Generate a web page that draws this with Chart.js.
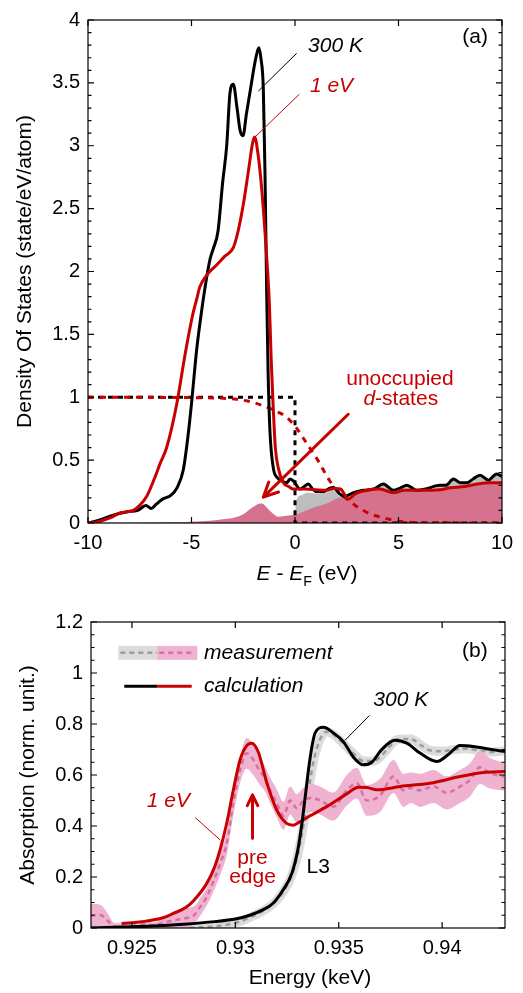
<!DOCTYPE html>
<html>
<head>
<meta charset="utf-8">
<script src="https://cdn.jsdelivr.net/npm/chart.js@4.4.1/dist/chart.umd.min.js"></script>
<style>
  html, body { margin: 0; padding: 0; background: #fff; }
  #wrap { position: relative; width: 523px; height: 993px; }
  canvas { position: absolute; left: 0; }
</style>
</head>
<body>
<div id="wrap">
  <canvas id="dos" width="523" height="590" style="top:0"></canvas>
  <canvas id="xas" width="523" height="403" style="top:590px"></canvas>
</div>
<script>
// (a) d-band density of states vs E - E_F (eV)
const dosE300 = [-10, -9.5, -9, -8.5, -8.1, -7.6, -7.2, -6.95, -6.7, -6.4, -6.0, -5.7, -5.4, -5.2, -5.0, -4.75, -4.5, -4.27, -4.1, -3.95, -3.72, -3.5, -3.3, -3.14, -2.98, -2.8, -2.65, -2.51, -2.35, -2.15, -1.95, -1.8, -1.74, -1.65, -1.53, -1.45, -1.37, -1.3, -1.21, -1.05, -0.85, -0.6, -0.4, -0.24, -0.05, 0.24, 0.45, 0.64, 0.85, 1.05, 1.4, 1.6, 1.85, 2.1, 2.4, 2.8, 3.3, 3.8, 4.27, 4.75, 5.1, 5.4, 5.88, 6.3, 7.0, 7.3, 7.65, 8.0, 8.3, 8.6, 8.94, 9.34, 9.74, 10];
const dos300 = [0, 0.02, 0.05, 0.075, 0.09, 0.1, 0.14, 0.115, 0.15, 0.19, 0.22, 0.28, 0.42, 0.65, 0.95, 1.38, 1.7, 1.95, 2.1, 2.18, 2.32, 2.7, 3.0, 3.42, 3.49, 3.3, 3.12, 3.08, 3.25, 3.45, 3.65, 3.76, 3.78, 3.7, 3.45, 2.79, 1.85, 1.2, 0.73, 0.44, 0.36, 0.33, 0.32, 0.35, 0.33, 0.27, 0.29, 0.31, 0.27, 0.25, 0.25, 0.27, 0.285, 0.24, 0.21, 0.24, 0.26, 0.27, 0.31, 0.26, 0.28, 0.30, 0.26, 0.27, 0.30, 0.30, 0.35, 0.32, 0.32, 0.35, 0.38, 0.34, 0.39, 0.37];

const dosE1eV = [-10, -9.5, -8.94, -8.45, -7.81, -7.5, -7.17, -6.8, -6.5, -6.2, -5.72, -5.3, -4.95, -4.75, -4.59, -4.27, -3.8, -3.4, -2.98, -2.75, -2.5, -2.25, -2.05, -1.95, -1.8, -1.61, -1.37, -1.24, -1.15, -1.05, -0.95, -0.81, -0.56, -0.3, -0.08, 0.5, 1.0, 1.5, 1.9, 2.2, 2.57, 2.9, 3.46, 4.1, 4.75, 5.3, 6.0, 7.0, 7.5, 8.2, 8.8, 9.4, 10];
const dos1eV = [0, 0.01, 0.04, 0.08, 0.1, 0.14, 0.21, 0.35, 0.48, 0.6, 0.94, 1.35, 1.65, 1.78, 1.88, 1.97, 2.05, 2.12, 2.19, 2.32, 2.53, 2.8, 3.02, 3.07, 2.95, 2.66, 2.12, 1.75, 1.3, 0.91, 0.6, 0.44, 0.32, 0.29, 0.27, 0.27, 0.265, 0.26, 0.275, 0.27, 0.19, 0.23, 0.26, 0.27, 0.24, 0.26, 0.26, 0.265, 0.28, 0.29, 0.31, 0.32, 0.32];

// unoccupied part of the d-band
const emptyE1eV = [-10, -8, -6, -5, -4, -3.5, -3, -2.5, -2.1, -1.8, -1.6, -1.4, -1.1, -0.8, -0.5, -0.1, 0.4, 1.0, 1.6, 2.2, 2.57, 3.0, 3.5, 4.1, 4.75, 5.3, 6.0, 7.0, 7.5, 8.2, 8.8, 9.4, 10];
const empty1eV = [0, 0.002, 0.005, 0.01, 0.02, 0.03, 0.04, 0.07, 0.12, 0.15, 0.155, 0.13, 0.08, 0.05, 0.055, 0.063, 0.09, 0.13, 0.16, 0.2, 0.19, 0.22, 0.25, 0.26, 0.235, 0.25, 0.255, 0.26, 0.275, 0.285, 0.305, 0.315, 0.315];
const emptyE300 = [0, 0.05, 0.3, 0.6, 1.0, 1.5, 1.85, 2.1, 2.5, 3.0, 3.5, 4.27, 4.75, 5.4, 5.88, 7.0, 7.65, 8.3, 8.94, 9.34, 9.74, 10];
const empty300 = [0, 0.17, 0.22, 0.24, 0.235, 0.24, 0.26, 0.22, 0.2, 0.24, 0.26, 0.3, 0.25, 0.29, 0.25, 0.29, 0.34, 0.31, 0.37, 0.33, 0.38, 0.36];

// occupation functions
const fermiE300 = [-10, 0, 0, 10];
const fermi300 = [1, 1, 0, 0];
const fermiE1eV = [-10, -4, -2.3, -1.5, -0.8, -0.4, 0.05, 0.5, 1.1, 1.7, 2.3, 3.0, 3.6, 4.3, 5.0, 6.0, 10];
const fermi1eV = [1, 0.995, 0.97, 0.93, 0.88, 0.84, 0.76, 0.65, 0.5, 0.33, 0.22, 0.13, 0.075, 0.04, 0.015, 0.003, 0];

// (b) L3 absorption vs photon energy (keV)
const calcE300 = [0.923, 0.9245, 0.926, 0.9275, 0.929, 0.93, 0.9307, 0.9313, 0.9318, 0.9323, 0.93273, 0.93302, 0.93322, 0.93338, 0.93362, 0.93386, 0.93426, 0.93474, 0.93523, 0.93571, 0.93619, 0.9366, 0.93708, 0.93772, 0.93829, 0.93893, 0.93974, 0.9403, 0.94086, 0.9415, 0.94215, 0.94304];
const calc300 = [0, 0.004, 0.008, 0.015, 0.025, 0.035, 0.05, 0.07, 0.095, 0.148, 0.214, 0.306, 0.41, 0.515, 0.67, 0.765, 0.787, 0.765, 0.73, 0.67, 0.64, 0.65, 0.70, 0.736, 0.725, 0.686, 0.653, 0.68, 0.716, 0.712, 0.703, 0.692];

const calcE1eV = [0.9245, 0.9255, 0.9265, 0.927, 0.9276, 0.928, 0.92862, 0.929, 0.92926, 0.92958, 0.9299, 0.93023, 0.93055, 0.93079, 0.93111, 0.93152, 0.932, 0.93248, 0.9328, 0.93313, 0.93362, 0.93442, 0.93539, 0.93595, 0.93636, 0.93684, 0.93797, 0.93958, 0.94086, 0.94199, 0.94304];
const calc1eV = [0.018, 0.025, 0.04, 0.057, 0.08, 0.109, 0.175, 0.24, 0.306, 0.41, 0.54, 0.66, 0.715, 0.725, 0.69, 0.57, 0.463, 0.41, 0.403, 0.417, 0.44, 0.476, 0.526, 0.552, 0.551, 0.542, 0.555, 0.57, 0.594, 0.61, 0.614];

const measE300 = [0.923, 0.924, 0.925, 0.927, 0.9285, 0.9295, 0.9302, 0.9308, 0.9314, 0.9319, 0.9323, 0.9327, 0.933, 0.9332, 0.9334, 0.9336, 0.9338, 0.9341, 0.9344, 0.9348, 0.9352, 0.9357, 0.9362, 0.9367, 0.937, 0.9375, 0.93785, 0.9385, 0.939, 0.9395, 0.94, 0.9406, 0.9412, 0.9418, 0.9425, 0.943];
const meas300 = [0.005, 0.003, 0.003, 0, 0.003, 0.012, 0.025, 0.045, 0.07, 0.1, 0.14, 0.2, 0.28, 0.36, 0.46, 0.57, 0.66, 0.74, 0.77, 0.755, 0.725, 0.685, 0.655, 0.655, 0.67, 0.715, 0.74, 0.741, 0.715, 0.695, 0.693, 0.70, 0.703, 0.695, 0.69, 0.695];

const measE1eV = [0.923, 0.9235, 0.9238, 0.9242, 0.925, 0.9256, 0.926, 0.9265, 0.927, 0.9275, 0.928, 0.9283, 0.9286, 0.9289, 0.9293, 0.92958, 0.9299, 0.93023, 0.93055, 0.93087, 0.93115, 0.9314, 0.93168, 0.932, 0.93233, 0.93265, 0.93297, 0.9333, 0.9337, 0.9341, 0.93474, 0.93539, 0.93587, 0.93636, 0.937, 0.93765, 0.93813, 0.9385, 0.93893, 0.93958, 0.94022, 0.94086, 0.94134, 0.94183, 0.94231, 0.943];
const meas1eV = [0.05, 0.05, 0.03, 0.005, 0.008, 0.015, 0.01, 0.02, 0.03, 0.037, 0.05, 0.083, 0.12, 0.175, 0.26, 0.33, 0.49, 0.62, 0.685, 0.66, 0.62, 0.59, 0.54, 0.49, 0.44, 0.5, 0.47, 0.5, 0.51, 0.5, 0.476, 0.54, 0.568, 0.5, 0.52, 0.594, 0.54, 0.55, 0.54, 0.555, 0.53, 0.555, 0.58, 0.63, 0.607, 0.594];
const meas1eVErr = [0.045, 0.04, 0.03, 0.012, 0.012, 0.015, 0.012, 0.02, 0.03, 0.04, 0.035, 0.035, 0.035, 0.04, 0.045, 0.045, 0.05, 0.05, 0.06, 0.06, 0.055, 0.05, 0.05, 0.055, 0.055, 0.055, 0.055, 0.05, 0.055, 0.055, 0.055, 0.06, 0.06, 0.06, 0.065, 0.065, 0.065, 0.06, 0.065, 0.065, 0.065, 0.065, 0.065, 0.065, 0.06, 0.055];

const FONT = '"Liberation Sans", Arial, Helvetica, sans-serif';
const RED = '#c80000';
Chart.defaults.color = '#000';
Chart.defaults.font.family = FONT;

const pts = (xs, ys) => xs.map((x, i) => ({x: x, y: ys[i]}));
const near = (v, s) => Math.abs(v / s - Math.round(v / s)) < 1e-6;

// frame on all four sides with inward ticks, long ones where a label sits
const frame = {
  id: 'frame',
  afterDraw(chart) {
    const {ctx, chartArea: a, scales: {x, y}} = chart;
    ctx.save();
    ctx.strokeStyle = '#000';
    ctx.lineWidth = 1.2;
    ctx.strokeRect(a.left, a.top, a.right - a.left, a.bottom - a.top);
    ctx.beginPath();
    y.ticks.forEach(t => {
      const p = y.getPixelForValue(t.value);
      const len = t.label ? 6 : 3.5;
      ctx.moveTo(a.left, p); ctx.lineTo(a.left + len, p);
      ctx.moveTo(a.right, p); ctx.lineTo(a.right - len, p);
    });
    x.ticks.forEach(t => {
      const p = x.getPixelForValue(t.value);
      const len = t.label ? 6 : 3.5;
      ctx.moveTo(p, a.bottom); ctx.lineTo(p, a.bottom - len);
      ctx.moveTo(p, a.top); ctx.lineTo(p, a.top + len);
    });
    ctx.stroke();
    ctx.restore();
  }
};

function text(ctx, s, x, y, color, italic, align, size) {
  ctx.font = (italic ? 'italic ' : '') + (size || 21) + 'px ' + FONT;
  ctx.fillStyle = color;
  ctx.textAlign = align || 'left';
  ctx.textBaseline = 'middle';
  ctx.fillText(s, x, y);
}

// mixed italic / subscript runs, centred on cx
function rich(ctx, parts, cx, cy, size, color) {
  const fontFor = p => (p.italic ? 'italic ' : '') + (p.sub ? size * 0.68 : size) + 'px ' + FONT;
  ctx.fillStyle = color;
  ctx.textAlign = 'left';
  ctx.textBaseline = 'middle';
  let w = 0;
  parts.forEach(p => { ctx.font = fontFor(p); w += ctx.measureText(p.t).width; });
  let x = cx - w / 2;
  parts.forEach(p => {
    ctx.font = fontFor(p);
    ctx.fillText(p.t, x, cy + (p.sub ? size * 0.38 : 0));
    x += ctx.measureText(p.t).width;
  });
}

function leader(ctx, x0, y0, x1, y1, color) {
  ctx.strokeStyle = color;
  ctx.lineWidth = 1;
  ctx.setLineDash([]);
  ctx.beginPath(); ctx.moveTo(x0, y0); ctx.lineTo(x1, y1); ctx.stroke();
}

function arrow(ctx, x0, y0, x1, y1, head, color) {
  const ang = Math.atan2(y1 - y0, x1 - x0);
  ctx.strokeStyle = color;
  ctx.lineWidth = 3;
  ctx.lineCap = 'round';
  ctx.lineJoin = 'round';
  ctx.setLineDash([]);
  ctx.beginPath();
  ctx.moveTo(x0, y0); ctx.lineTo(x1, y1);
  ctx.moveTo(x1 - head * Math.cos(ang - 0.45), y1 - head * Math.sin(ang - 0.45));
  ctx.lineTo(x1, y1);
  ctx.lineTo(x1 - head * Math.cos(ang + 0.45), y1 - head * Math.sin(ang + 0.45));
  ctx.stroke();
}

const dosNotes = {
  id: 'dosNotes',
  afterDraw(chart) {
    const {ctx, chartArea: a, scales: {x, y}} = chart;
    const X = v => x.getPixelForValue(v), Y = v => y.getPixelForValue(v);
    ctx.save();
    text(ctx, '300 K', X(0.63), Y(3.79), '#000', true);
    leader(ctx, X(0.08), Y(3.735), X(-1.77), Y(3.435), '#000');
    text(ctx, '1 eV', X(0.72), Y(3.47), RED, true);
    leader(ctx, X(0.21), Y(3.41), X(-1.93), Y(3.07), RED);
    text(ctx, '(a)', X(8.7), Y(3.86), '#000', false, 'center');
    text(ctx, 'unoccupied', X(5.07), Y(1.143), RED, false, 'center');
    rich(ctx, [{t: 'd', italic: true}, {t: '-states'}], X(5.11), Y(0.986), 21, RED);
    arrow(ctx, X(2.57), Y(0.865), X(-1.53), Y(0.206), 16, RED);
    rich(ctx, [{t: 'E', italic: true}, {t: ' - '}, {t: 'E', italic: true}, {t: 'F', sub: true}, {t: ' (eV)'}],
      (a.left + a.right) / 2 + 12, a.bottom + 51, 21, '#000');
    ctx.restore();
  }
};

const xasNotes = {
  id: 'xasNotes',
  afterDraw(chart) {
    const {ctx, chartArea: a, scales: {x, y}} = chart;
    const X = v => x.getPixelForValue(v), Y = v => y.getPixelForValue(v);
    ctx.save();
    // legend
    const r1 = Y(1.079), r2 = Y(0.948);
    ctx.fillStyle = '#dcdcdc';
    ctx.fillRect(X(0.92434), r1 - 7, X(0.92622) - X(0.92434), 14);
    ctx.fillStyle = '#efb2d1';
    ctx.fillRect(X(0.92622), r1 - 7, X(0.92816) - X(0.92622), 14);
    ctx.lineWidth = 2.5;
    ctx.setLineDash([5, 4]);
    ctx.strokeStyle = '#9c9c9c';
    ctx.beginPath(); ctx.moveTo(X(0.92444), r1); ctx.lineTo(X(0.92622), r1); ctx.stroke();
    ctx.strokeStyle = '#d9709c';
    ctx.beginPath(); ctx.moveTo(X(0.92632), r1); ctx.lineTo(X(0.92806), r1); ctx.stroke();
    ctx.setLineDash([]);
    ctx.lineWidth = 3;
    ctx.strokeStyle = '#000';
    ctx.beginPath(); ctx.moveTo(X(0.92463), r2); ctx.lineTo(X(0.92622), r2); ctx.stroke();
    ctx.strokeStyle = RED;
    ctx.beginPath(); ctx.moveTo(X(0.92622), r2); ctx.lineTo(X(0.92789), r2); ctx.stroke();
    text(ctx, 'measurement', X(0.92849), r1, '#000', true);
    text(ctx, 'calculation', X(0.92849), r2, '#000', true);
    text(ctx, '(b)', X(0.94158), Y(1.086), '#000', false, 'center');
    // curve labels
    text(ctx, '300 K', X(0.93667), Y(0.892), '#000', true);
    leader(ctx, X(0.93648), Y(0.833), X(0.9353), Y(0.736), '#000');
    text(ctx, '1 eV', X(0.92572), Y(0.496), RED, true);
    leader(ctx, X(0.92806), Y(0.433), X(0.92927), Y(0.345), RED);
    arrow(ctx, X(0.93083), Y(0.352), X(0.93083), Y(0.522), 12, RED);
    text(ctx, 'pre', X(0.93083), Y(0.273), RED, false, 'center');
    text(ctx, 'edge', X(0.93083), Y(0.198), RED, false, 'center');
    text(ctx, 'L3', X(0.93401), Y(0.2376), '#000', false, 'center');
    text(ctx, 'Energy (keV)', (a.left + a.right) / 2 + 12, a.bottom + 50, '#000', false, 'center');
    ctx.restore();
  }
};

const tickFont = {family: FONT, size: 20};
const noGrid = {display: false, drawTicks: false};

new Chart(document.getElementById('dos'), {
  type: 'line',
  data: {
    datasets: [
      {data: pts(dosE1eV, dos1eV), borderColor: RED, borderWidth: 3, order: 1},
      {data: pts(dosE300, dos300), borderColor: '#000', borderWidth: 3, order: 2},
      {data: pts(fermiE1eV, fermi1eV), borderColor: RED, borderWidth: 3, borderDash: [6, 6], order: 3},
      {data: pts(fermiE300, fermi300), borderColor: '#000', borderWidth: 3, borderDash: [5, 5],
        cubicInterpolationMode: 'default', tension: 0, order: 4},
      {data: pts(emptyE1eV, empty1eV), borderWidth: 0, backgroundColor: '#d5738f', fill: 'origin', order: 5},
      {data: pts(emptyE300, empty300), borderWidth: 0, backgroundColor: '#bdbdbd', fill: 'origin', order: 6}
    ]
  },
  options: {
    responsive: false,
    animation: false,
    devicePixelRatio: 1,
    layout: {padding: {left: 0, top: 13, right: 21, bottom: 0}},
    elements: {
      point: {radius: 0},
      line: {cubicInterpolationMode: 'monotone', borderJoinStyle: 'round'}
    },
    plugins: {legend: {display: false}, tooltip: {enabled: false}},
    scales: {
      x: {
        type: 'linear', min: -10, max: 10,
        grid: noGrid, border: {display: false},
        ticks: {stepSize: 5, padding: 8, font: tickFont, maxRotation: 0, autoSkip: false,
          callback: v => String(v)},
        afterFit: s => { s.height = 67; }
      },
      y: {
        type: 'linear', min: 0, max: 4,
        grid: noGrid, border: {display: false},
        ticks: {stepSize: 0.1, padding: 8, font: tickFont, autoSkip: false,
          callback: v => near(v, 0.5) ? String(Math.round(v * 10) / 10) : ''},
        title: {display: true, text: 'Density Of States (state/eV/atom)',
          font: {family: FONT, size: 21}, padding: {top: 12.4, bottom: 0}},
        afterFit: s => { s.width = 88; }
      }
    }
  },
  plugins: [frame, dosNotes]
});

new Chart(document.getElementById('xas'), {
  type: 'line',
  data: {
    datasets: [
      {data: pts(calcE1eV, calc1eV), borderColor: RED, borderWidth: 3, order: 2},
      {data: pts(calcE300, calc300), borderColor: '#000', borderWidth: 3, order: 1},
      {data: pts(measE1eV, meas1eV), borderColor: '#d9709c', borderWidth: 2.5, borderDash: [5, 4], order: 3},
      {data: pts(measE1eV, meas1eV.map((v, i) => v - meas1eVErr[i])), borderWidth: 0, order: 5},
      {data: pts(measE1eV, meas1eV.map((v, i) => v + meas1eVErr[i])), borderWidth: 0,
        backgroundColor: '#efb2d1', fill: '-1', order: 4},
      {data: pts(measE300, meas300), borderColor: '#9c9c9c', borderWidth: 2.5, borderDash: [5, 4], order: 6},
      {data: pts(measE300, meas300), borderColor: '#dcdcdc', borderWidth: 9, order: 7}
    ]
  },
  options: {
    responsive: false,
    animation: false,
    devicePixelRatio: 1,
    layout: {padding: {left: 0, top: 32, right: 18, bottom: 0}},
    elements: {
      point: {radius: 0},
      line: {cubicInterpolationMode: 'monotone', borderJoinStyle: 'round'}
    },
    plugins: {legend: {display: false}, tooltip: {enabled: false}},
    scales: {
      x: {
        type: 'linear', min: 0.92302, max: 0.94304,
        grid: noGrid, border: {display: false},
        ticks: {stepSize: 0.005, includeBounds: false, padding: 8, font: tickFont, maxRotation: 0, autoSkip: false,
          callback: v => near(v, 0.005) ? String(+v.toFixed(3)) : ''},
        afterFit: s => { s.height = 65; }
      },
      y: {
        type: 'linear', min: 0, max: 1.2,
        grid: noGrid, border: {display: false},
        ticks: {stepSize: 0.05, padding: 8, font: tickFont, autoSkip: false,
          callback: v => near(v, 0.2) ? String(Math.round(v * 10) / 10) : ''},
        title: {display: true, text: 'Absorption (norm. unit.)',
          font: {family: FONT, size: 21}, padding: {top: 15.4, bottom: 0}},
        afterFit: s => { s.width = 91; }
      }
    }
  },
  plugins: [frame, xasNotes]
});
</script>
</body>
</html>
